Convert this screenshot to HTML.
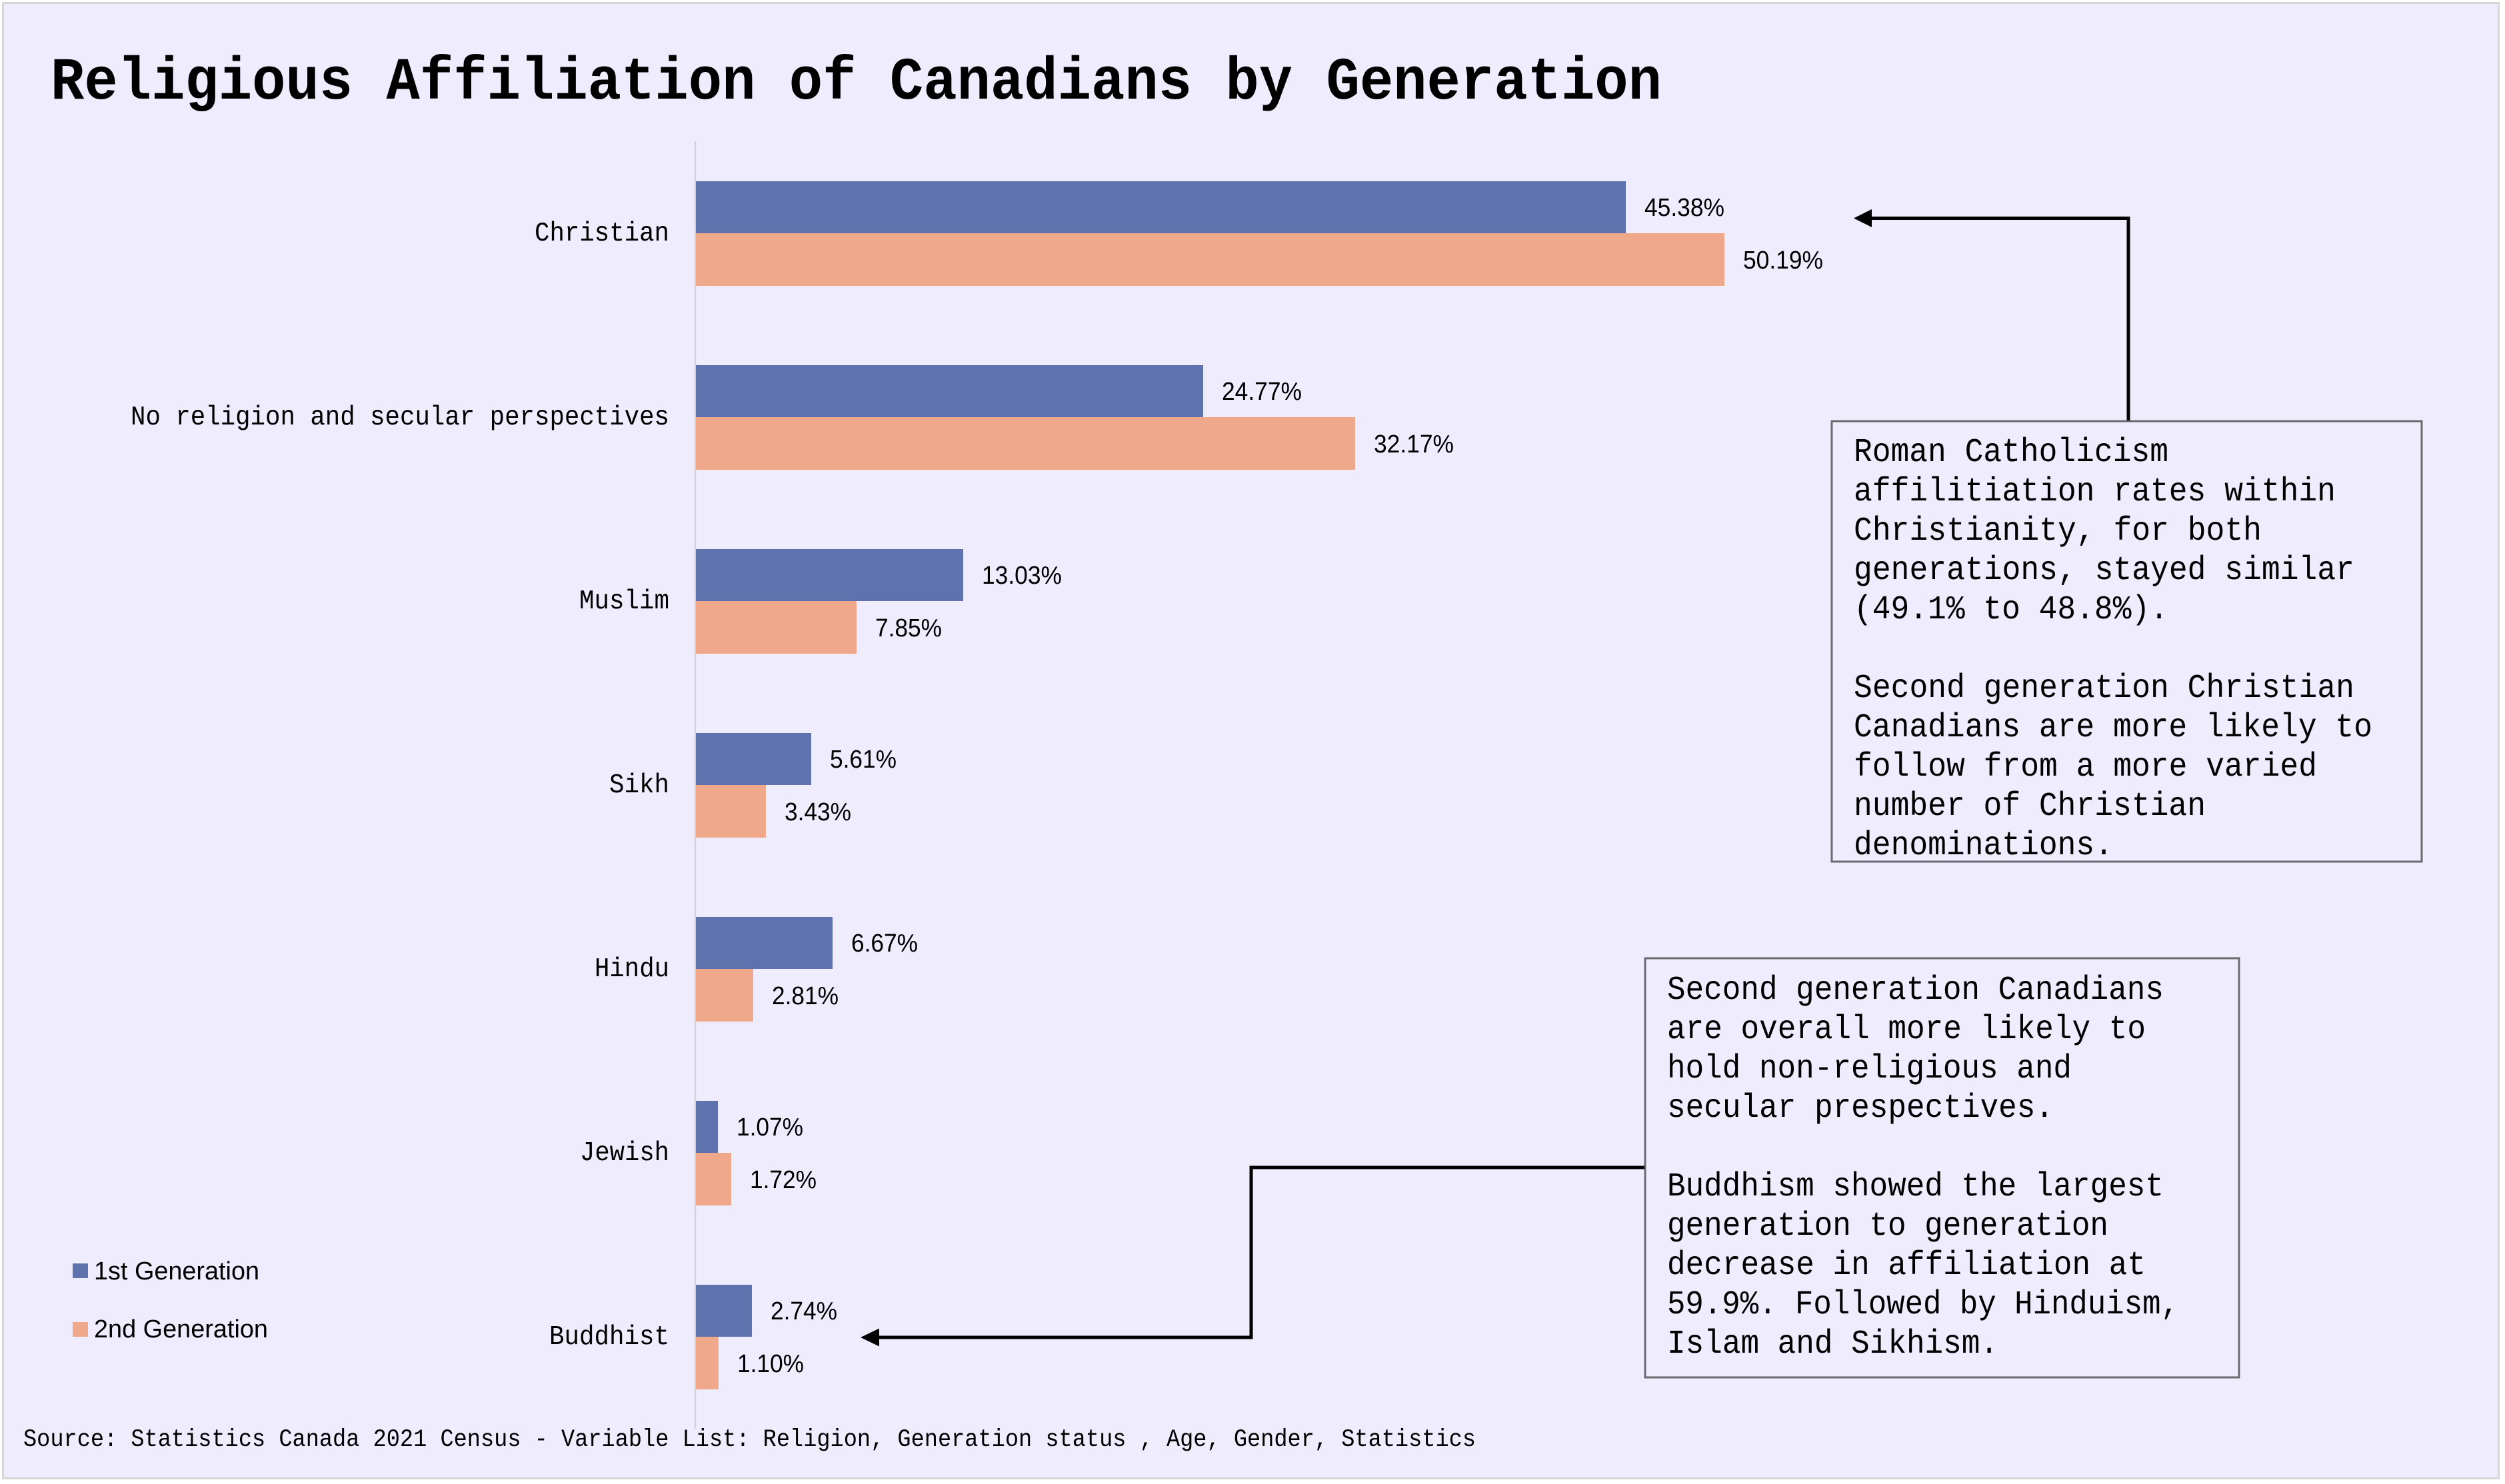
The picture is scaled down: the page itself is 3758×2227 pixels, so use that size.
<!DOCTYPE html>
<html>
<head>
<meta charset="utf-8">
<style>
html,body{margin:0;padding:0;background:#ffffff;}
svg{display:block;}
.mono{font-family:"Liberation Mono","DejaVu Sans Mono",monospace;}
.sans{font-family:"Liberation Sans","DejaVu Sans",sans-serif;}
</style>
</head>
<body>
<svg width="3758" height="2227" viewBox="0 0 3758 2227" xmlns="http://www.w3.org/2000/svg">
  <rect x="0" y="0" width="3758" height="2227" fill="#ffffff"/>
  <rect x="4.5" y="4.5" width="3744" height="2214" fill="#EFECFD" stroke="#D6D6D6" stroke-width="3"/>

  <!-- Title -->
  <text class="mono" x="76" y="148" font-size="90" font-weight="bold" fill="#000" textLength="2417" lengthAdjust="spacingAndGlyphs">Religious Affiliation of Canadians by Generation</text>

  <!-- Axis line -->
  <line x1="1043" y1="212" x2="1043" y2="2144" stroke="#D2D2D8" stroke-width="2.5"/>

  <!-- Bars -->
  <g>
    <rect x="1044" y="272" width="1395" height="78" fill="#5E72AE"/>
    <rect x="1044" y="350" width="1543" height="79" fill="#F0A88A"/>
    <rect x="1044" y="548" width="761" height="78" fill="#5E72AE"/>
    <rect x="1044" y="626" width="989" height="79" fill="#F0A88A"/>
    <rect x="1044" y="824" width="401" height="78" fill="#5E72AE"/>
    <rect x="1044" y="902" width="241" height="79" fill="#F0A88A"/>
    <rect x="1044" y="1100" width="173" height="78" fill="#5E72AE"/>
    <rect x="1044" y="1178" width="105" height="79" fill="#F0A88A"/>
    <rect x="1044" y="1376" width="205" height="78" fill="#5E72AE"/>
    <rect x="1044" y="1454" width="86" height="79" fill="#F0A88A"/>
    <rect x="1044" y="1652" width="33" height="78" fill="#5E72AE"/>
    <rect x="1044" y="1730" width="53" height="79" fill="#F0A88A"/>
    <rect x="1044" y="1928" width="84" height="78" fill="#5E72AE"/>
    <rect x="1044" y="2006" width="34" height="79" fill="#F0A88A"/>
  </g>

  <!-- Value labels -->
  <g class="sans" font-size="38" fill="#000">
    <text x="2467" y="324" textLength="120" lengthAdjust="spacingAndGlyphs">45.38%</text>
    <text x="2615" y="403" textLength="120" lengthAdjust="spacingAndGlyphs">50.19%</text>
    <text x="1833" y="600" textLength="120" lengthAdjust="spacingAndGlyphs">24.77%</text>
    <text x="2061" y="679" textLength="120" lengthAdjust="spacingAndGlyphs">32.17%</text>
    <text x="1473" y="876" textLength="120" lengthAdjust="spacingAndGlyphs">13.03%</text>
    <text x="1313" y="955" textLength="100" lengthAdjust="spacingAndGlyphs">7.85%</text>
    <text x="1245" y="1152" textLength="100" lengthAdjust="spacingAndGlyphs">5.61%</text>
    <text x="1177" y="1231" textLength="100" lengthAdjust="spacingAndGlyphs">3.43%</text>
    <text x="1277" y="1428" textLength="100" lengthAdjust="spacingAndGlyphs">6.67%</text>
    <text x="1158" y="1507" textLength="100" lengthAdjust="spacingAndGlyphs">2.81%</text>
    <text x="1105" y="1704" textLength="100" lengthAdjust="spacingAndGlyphs">1.07%</text>
    <text x="1125" y="1783" textLength="100" lengthAdjust="spacingAndGlyphs">1.72%</text>
    <text x="1156" y="1980" textLength="100" lengthAdjust="spacingAndGlyphs">2.74%</text>
    <text x="1106" y="2059" textLength="100" lengthAdjust="spacingAndGlyphs">1.10%</text>
  </g>

  <!-- Category labels -->
  <g class="mono" font-size="41" fill="#000" text-anchor="end">
    <text x="1004" y="361" textLength="202" lengthAdjust="spacingAndGlyphs">Christian</text>
    <text x="1004" y="637" textLength="808" lengthAdjust="spacingAndGlyphs">No religion and secular perspectives</text>
    <text x="1004" y="913" textLength="135" lengthAdjust="spacingAndGlyphs">Muslim</text>
    <text x="1004" y="1189" textLength="90" lengthAdjust="spacingAndGlyphs">Sikh</text>
    <text x="1004" y="1465" textLength="112" lengthAdjust="spacingAndGlyphs">Hindu</text>
    <text x="1004" y="1741" textLength="134" lengthAdjust="spacingAndGlyphs">Jewish</text>
    <text x="1004" y="2017" textLength="180" lengthAdjust="spacingAndGlyphs">Buddhist</text>
  </g>

  <!-- Legend -->
  <rect x="109" y="1896" width="23" height="22" fill="#5E72AE"/>
  <rect x="109" y="1984" width="23" height="22" fill="#F0A88A"/>
  <g class="sans" font-size="38" fill="#000">
    <text x="141" y="1920" textLength="248" lengthAdjust="spacingAndGlyphs">1st Generation</text>
    <text x="141" y="2007" textLength="261" lengthAdjust="spacingAndGlyphs">2nd Generation</text>
  </g>

  <!-- Source -->
  <text class="mono" x="35" y="2170" font-size="37" fill="#000" textLength="2179" lengthAdjust="spacingAndGlyphs">Source: Statistics Canada 2021 Census - Variable List: Religion, Generation status , Age, Gender, Statistics</text>

  <!-- Annotation box 1 -->
  <rect x="2748" y="632" width="885" height="661" fill="none" stroke="#6A6A6E" stroke-width="3"/>
  <g class="mono" font-size="50" fill="#000">
    <text x="2781" y="692" textLength="472" lengthAdjust="spacingAndGlyphs">Roman Catholicism</text>
    <text x="2781" y="751" textLength="723" lengthAdjust="spacingAndGlyphs">affilitiation rates within</text>
    <text x="2781" y="810" textLength="612" lengthAdjust="spacingAndGlyphs">Christianity, for both</text>
    <text x="2781" y="869" textLength="751" lengthAdjust="spacingAndGlyphs">generations, stayed similar</text>
    <text x="2781" y="928" textLength="472" lengthAdjust="spacingAndGlyphs">(49.1% to 48.8%).</text>
    <text x="2781" y="1046" textLength="751" lengthAdjust="spacingAndGlyphs">Second generation Christian</text>
    <text x="2781" y="1105" textLength="778" lengthAdjust="spacingAndGlyphs">Canadians are more likely to</text>
    <text x="2781" y="1164" textLength="695" lengthAdjust="spacingAndGlyphs">follow from a more varied</text>
    <text x="2781" y="1223" textLength="528" lengthAdjust="spacingAndGlyphs">number of Christian</text>
    <text x="2781" y="1282" textLength="389" lengthAdjust="spacingAndGlyphs">denominations.</text>
  </g>

  <!-- Annotation box 2 -->
  <rect x="2468" y="1438" width="891" height="629" fill="none" stroke="#6A6A6E" stroke-width="3"/>
  <g class="mono" font-size="50" fill="#000">
    <text x="2501" y="1499" textLength="745" lengthAdjust="spacingAndGlyphs">Second generation Canadians</text>
    <text x="2501" y="1558" textLength="718" lengthAdjust="spacingAndGlyphs">are overall more likely to</text>
    <text x="2501" y="1617" textLength="607" lengthAdjust="spacingAndGlyphs">hold non-religious and</text>
    <text x="2501" y="1676" textLength="580" lengthAdjust="spacingAndGlyphs">secular prespectives.</text>
    <text x="2501" y="1794" textLength="745" lengthAdjust="spacingAndGlyphs">Buddhism showed the largest</text>
    <text x="2501" y="1853" textLength="662" lengthAdjust="spacingAndGlyphs">generation to generation</text>
    <text x="2501" y="1912" textLength="718" lengthAdjust="spacingAndGlyphs">decrease in affiliation at</text>
    <text x="2501" y="1971" textLength="768" lengthAdjust="spacingAndGlyphs">59.9%. Followed by Hinduism,</text>
    <text x="2501" y="2030" textLength="497" lengthAdjust="spacingAndGlyphs">Islam and Sikhism.</text>
  </g>

  <!-- Arrow 1 -->
  <polyline points="3193,631 3193,327.5 2806,327.5" fill="none" stroke="#000" stroke-width="5"/>
  <polygon points="2781,327.5 2808,314 2808,341" fill="#000"/>

  <!-- Arrow 2 -->
  <polyline points="2467,1752 1877,1752 1877,2007 1317,2007" fill="none" stroke="#000" stroke-width="5"/>
  <polygon points="1291,2007 1319,1993.5 1319,2020.5" fill="#000"/>
</svg>
</body>
</html>
